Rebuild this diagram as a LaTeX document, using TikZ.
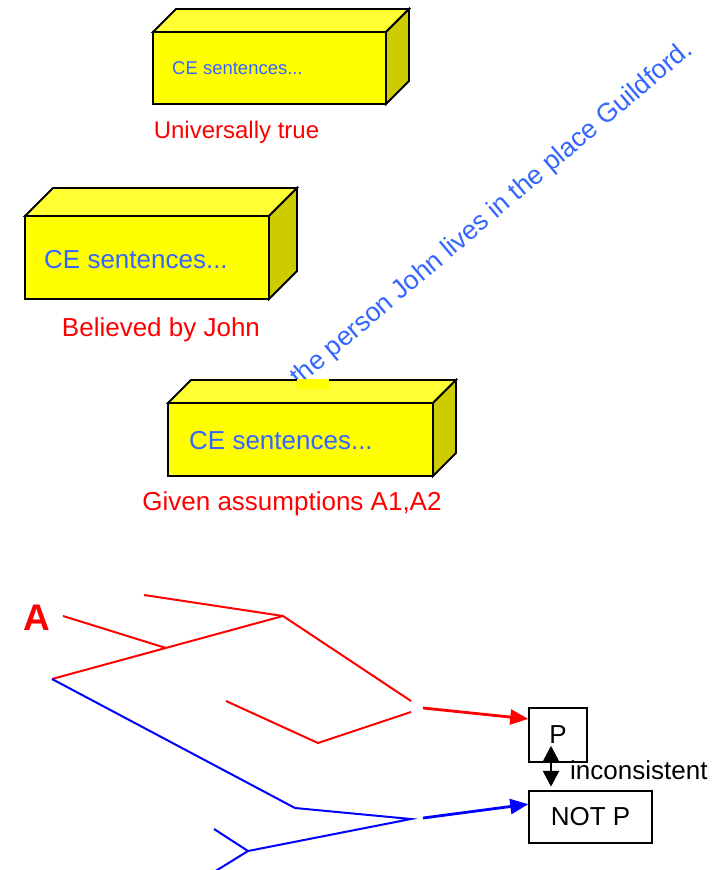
\documentclass[tikz,border=0pt]{standalone}
\usepackage{fontspec}
\setmainfont{Liberation Sans}
\usetikzlibrary{arrows.meta,calc}

\definecolor{cefront}{RGB}{255,255,0}
\definecolor{cetop}{RGB}{255,255,51}
\definecolor{ceside}{RGB}{204,204,0}
\definecolor{ceblue}{RGB}{51,102,255}
\definecolor{cered}{RGB}{255,0,0}
\definecolor{ceblue2}{RGB}{0,0,255}

\newcommand\setsz[1]{\fontsize{#1}{#1}\selectfont}

\tikzset{
  cetext/.style={text=ceblue, inner sep=0pt, anchor=base west},
  celabel/.style={text=cered, inner sep=0pt, anchor=base, font=\setsz{26}},
  propbox/.style={draw, line width=1.5pt, inner sep=0pt, font=\setsz{26}},
  redline/.style={cered, line width=2pt},
  blueline/.style={ceblue2, line width=2pt},
  concl/.style={line width=2.8pt, -{Triangle[length=18pt,width=15pt]}},
}

\begin{document}
\begin{tikzpicture}[line join=miter, x=1pt, y=-1pt]
  \useasboundingbox (0,0) rectangle (716,870);

  % sentence running under the lowest box
  \node[cetext, rotate=40.3, font=\setsz{26.6}] (guildford) at (299,387)
    {the person John lives in the place Guildford.};

  % the three context boxes: front l,t,r,b, depth, text size, text pos, label
  \foreach \i/\l/\t/\r/\b/\d/\fs/\tx/\ty/\lab/\lsz/\lx/\ly in {
      1/153/32/386/104/23/18.5/172/74/{Universally true}/24/236.5/138,
      2/25/216/269/299/28/26/44/268/{Believed by John}/26/161/336,
      3/168/403/433/476/23/26/189/449/{Given assumptions A1,A2}/26/292/510} {
    \filldraw[fill=cetop, line width=1.8pt]
      (\l,\t) -- (\l+\d,\t-\d) -- (\r+\d,\t-\d) -- (\r,\t) -- cycle;
    \filldraw[fill=ceside, line width=1.8pt]
      (\r,\t) -- (\r+\d,\t-\d) -- (\r+\d,\b-\d) -- (\r,\b) -- cycle;
    \filldraw[fill=cefront, line width=1.8pt] (\l,\t) rectangle (\r,\b);
    \node[cetext, font=\setsz{\fs}] (ce\i) at (\tx,\ty) {CE sentences...};
    \node[celabel, font=\setsz{\lsz}] (lbl\i) at (\lx,\ly) {\lab};
  }
  \fill[cefront] (297,379) rectangle (329,389);

  % argument tree
  \node[text=cered, inner sep=0pt, anchor=base, font=\setsz{37}\bfseries] (a) at (37,630) {A};

  \draw[redline] (144,595) -- (283,616);
  \draw[redline] (63,616) -- (166,648);
  \draw[redline] (52,679) -- (283,616) -- (411,701);
  \draw[redline] (226,701) -- (318,743) -- (411,712);

  \draw[blueline] (52,679) -- (295,808) -- (411,819) -- (248,851);
  \draw[blueline] (214,829) -- (248,851) -- (214,872);

  % conclusions
  \node[propbox, minimum width=58pt, minimum height=54pt] (P) at (558,735) {P};
  \node[propbox, minimum width=123pt, minimum height=52pt] (notP) at (590.5,817) {NOT P};

  \coordinate (redend) at (423,708);
  \coordinate (blueend) at (423,818);
  \draw[concl, cered] (redend) -- ($(P.north west)!0.21!(P.south west)$);
  \draw[concl, ceblue2] (blueend) -- ($(notP.north west)!0.26!(notP.south west)$);

  \draw[line width=2.8pt, {Triangle[length=16pt,width=16pt]}-{Triangle[length=16pt,width=16pt]}]
    ([xshift=-7pt,yshift=17pt]P.south) -- ([xshift=-7pt,yshift=-24pt]P.south);
  \node[inner sep=0pt, anchor=base west, font=\setsz{26}] (incons) at (570,779) {inconsistent};
\end{tikzpicture}
\end{document}
